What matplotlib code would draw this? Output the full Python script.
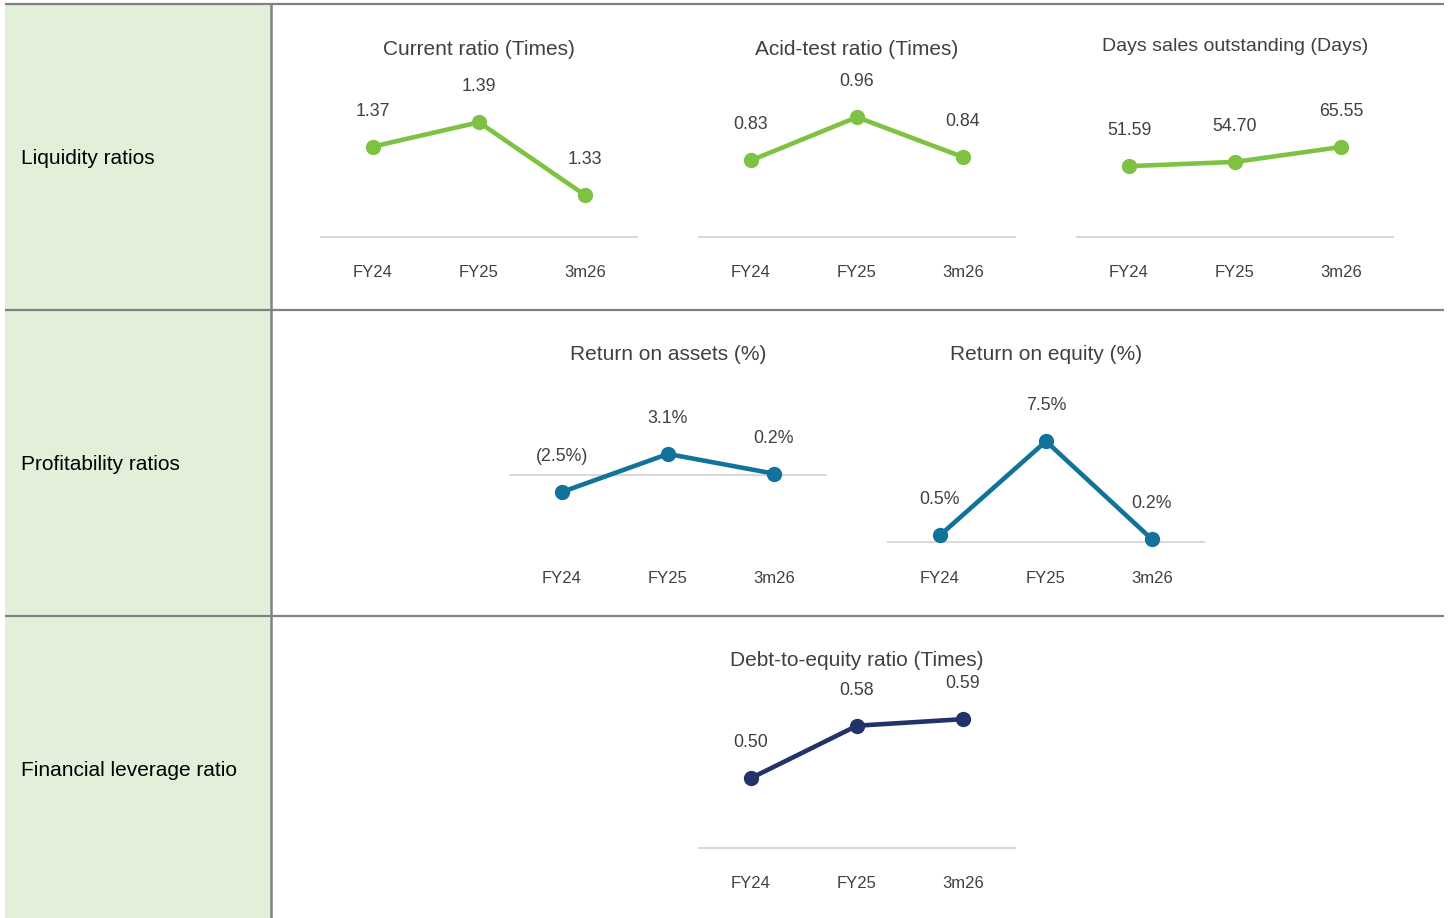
import numpy as np
import matplotlib.pyplot as plt

plt.rcParams['font.family'] = ['Liberation Sans', 'DejaVu Sans']

periods = ["FY24", "FY25", "3m26"]
current_ratio = [1.37, 1.39, 1.33]
acid_test = [0.83, 0.96, 0.84]
dso = [51.59, 54.70, 65.55]
roa = [-2.5, 3.1, 0.2]
roe = [0.5, 7.5, 0.2]
debt_to_equity = [0.50, 0.58, 0.59]

row_labels = ["Liquidity ratios", "Profitability ratios", "Financial leverage ratio"]

GREEN = "#7DC242"
TEAL = "#117399"
NAVY = "#22336B"
TXT = "#404040"

W, H = 1451, 918
fig = plt.figure(figsize=(W / 100, H / 100), dpi=100)

# background table: green label column and grey rules
bg = fig.add_axes([0, 0, 1, 1])
bg.set_xlim(0, W)
bg.set_ylim(H, 0)
bg.axis("off")
bg.fill_between([5, 270], 4, H, color="#E2F0D9", lw=0)
for y in [4, 310, 616]:
    bg.plot([5, 1444], [y, y], color="#808080", lw=1.6, solid_capstyle="butt")
bg.plot([271, 271], [4, H], color="#808080", lw=1.8)
for lab, y in zip(row_labels, [159, 464, 770]):
    bg.text(21, y, lab, fontsize=15, color="black", va="center", ha="left")


def fmt_num(v):
    return "{:.2f}".format(v)


def fmt_pct(v):
    if v < 0:
        return "({:.1f}%)".format(-v)
    return "{:.1f}%".format(v)


def mini_chart(values, title, color, x0, base_px, base_val, k, title_px, tick_px, fmt, title_size=15):
    # axes from title row down to tick label row, 318 px wide
    ax = fig.add_axes([x0 / W, 1 - tick_px / H, 318 / W, (tick_px - title_px) / H])
    ax.set_xlim(-0.5, 2.5)
    ax.set_ylim(base_val - (tick_px - base_px) / k, base_val + (base_px - title_px) / k)
    ax.axis("off")
    ax.axhline(base_val, color="#D9D9D9", lw=1.5, zorder=1)
    x = np.arange(len(values))
    ax.plot(x, values, color=color, lw=3.3, marker="o", ms=10, zorder=3, clip_on=False)
    for i, v in enumerate(values):
        ax.annotate(fmt(v), (i, v), xytext=(0, 25.6), textcoords="offset points",
                    ha="center", va="center", fontsize=12.8, color=TXT)
        ax.annotate(periods[i], (i, 0), xycoords=ax.get_xaxis_transform(),
                    xytext=(0, -1), textcoords="offset points",
                    ha="center", va="center", fontsize=12, color=TXT)
    ax.annotate(title, (0.5, 1.0), xycoords="axes fraction", xytext=(0, -1.5),
                textcoords="offset points", ha="center", va="center",
                fontsize=title_size, color=TXT)
    return ax


mini_chart(current_ratio, "Current ratio (Times)", GREEN, 320, 237, 1.2955, 1214, 47, 271, fmt_num)
mini_chart(acid_test, "Acid-test ratio (Times)", GREEN, 698, 237, 0.60, 333, 47, 271, fmt_num)
mini_chart(dso, "Days sales outstanding (Days)", GREEN, 1076, 237, 0.0, 1.373, 44, 271, fmt_num, 14)
mini_chart(roa, "Return on assets (%)", TEAL, 509, 475, 0.0, 6.79, 352, 577, fmt_pct)
mini_chart(roe, "Return on equity (%)", TEAL, 887, 542, 0.0, 13.43, 352, 577, fmt_pct)
mini_chart(debt_to_equity, "Debt-to-equity ratio (Times)", NAVY, 698, 848, 0.3933, 655, 658, 882, fmt_num)

fig.savefig("out.png", dpi=100)
